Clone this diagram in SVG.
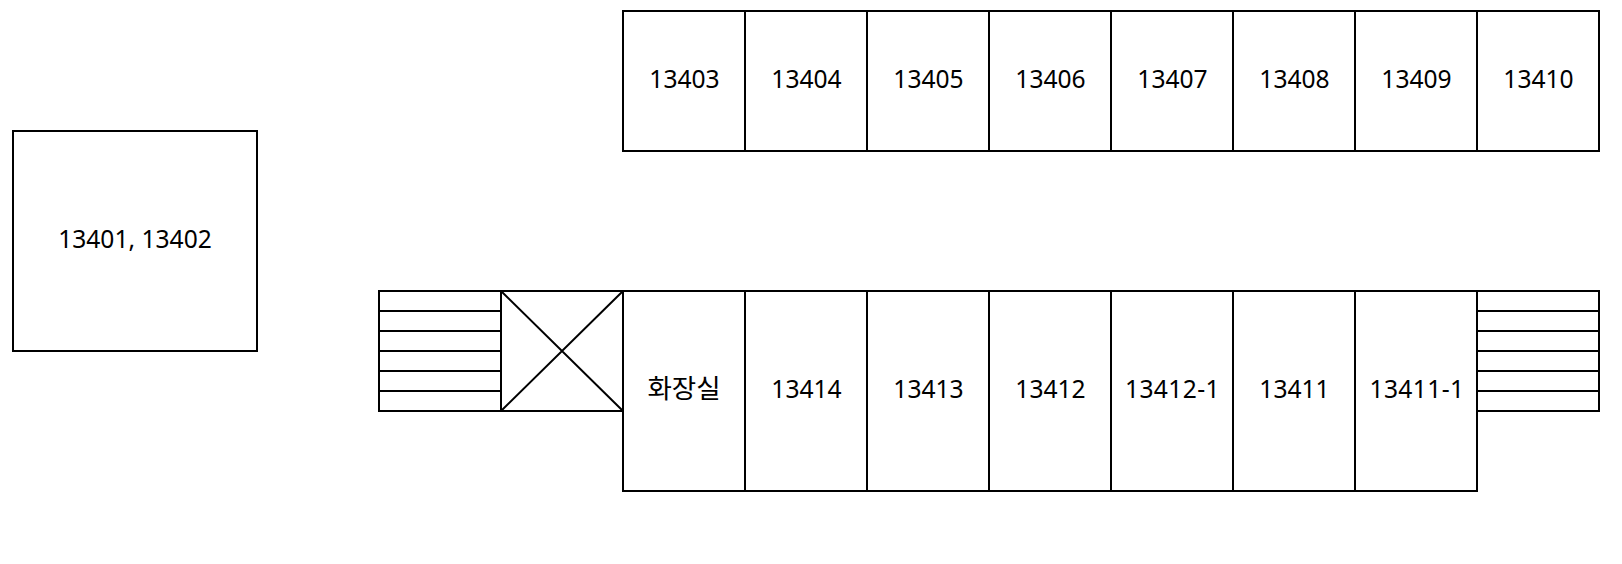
<svg xmlns="http://www.w3.org/2000/svg" width="1622" height="564" viewBox="0 0 1622 564">
<style>
rect,path{fill:none;stroke:#000;stroke-width:2}
.bg{fill:#fff;stroke:none}
text{font-family:"Noto Sans","Open Sans","Noto Sans CJK KR",sans-serif;font-size:24.6px;fill:#000;text-anchor:middle}
.ko{font-family:"Noto Sans CJK KR",sans-serif;font-size:26.5px}
.wide{letter-spacing:.4px}
</style>
<rect class="bg" x="0" y="0" width="1622" height="564"/>
<g id="room-13401-13402"><rect x="13" y="131" width="244" height="220"/><text x="135" y="248">13401, 13402</text></g>
<g id="room-13403"><rect x="623" y="11" width="122" height="140"/><text x="684.5" y="88">13403</text></g>
<g id="room-13404"><rect x="745" y="11" width="122" height="140"/><text x="806.5" y="88">13404</text></g>
<g id="room-13405"><rect x="867" y="11" width="122" height="140"/><text x="928.5" y="88">13405</text></g>
<g id="room-13406"><rect x="989" y="11" width="122" height="140"/><text x="1050.5" y="88">13406</text></g>
<g id="room-13407"><rect x="1111" y="11" width="122" height="140"/><text x="1172.5" y="88">13407</text></g>
<g id="room-13408"><rect x="1233" y="11" width="122" height="140"/><text x="1294.5" y="88">13408</text></g>
<g id="room-13409"><rect x="1355" y="11" width="122" height="140"/><text x="1416.5" y="88">13409</text></g>
<g id="room-13410"><rect x="1477" y="11" width="122" height="140"/><text x="1538.5" y="88">13410</text></g>
<g id="stairs-left"><rect x="379" y="291" width="122" height="120"/><path d="M379 311H501M379 331H501M379 351H501M379 371H501M379 391H501"/></g>
<g id="void"><rect x="501" y="291" width="122" height="120"/><path d="M501 291L623 411M623 291L501 411"/></g>
<g id="restroom"><rect x="623" y="291" width="122" height="200"/><text class="ko" x="684" y="398">화장실</text></g>
<g id="room-13414"><rect x="745" y="291" width="122" height="200"/><text x="806.5" y="398">13414</text></g>
<g id="room-13413"><rect x="867" y="291" width="122" height="200"/><text x="928.5" y="398">13413</text></g>
<g id="room-13412"><rect x="989" y="291" width="122" height="200"/><text x="1050.5" y="398">13412</text></g>
<g id="room-13412-1"><rect x="1111" y="291" width="122" height="200"/><text class="wide" x="1172.5" y="398">13412-1</text></g>
<g id="room-13411"><rect x="1233" y="291" width="122" height="200"/><text x="1294.5" y="398">13411</text></g>
<g id="room-13411-1"><rect x="1355" y="291" width="122" height="200"/><text class="wide" x="1417" y="398">13411-1</text></g>
<g id="stairs-right"><rect x="1477" y="291" width="122" height="120"/><path d="M1477 311H1599M1477 331H1599M1477 351H1599M1477 371H1599M1477 391H1599"/></g>
<g id="connectors"></g>
</svg>
